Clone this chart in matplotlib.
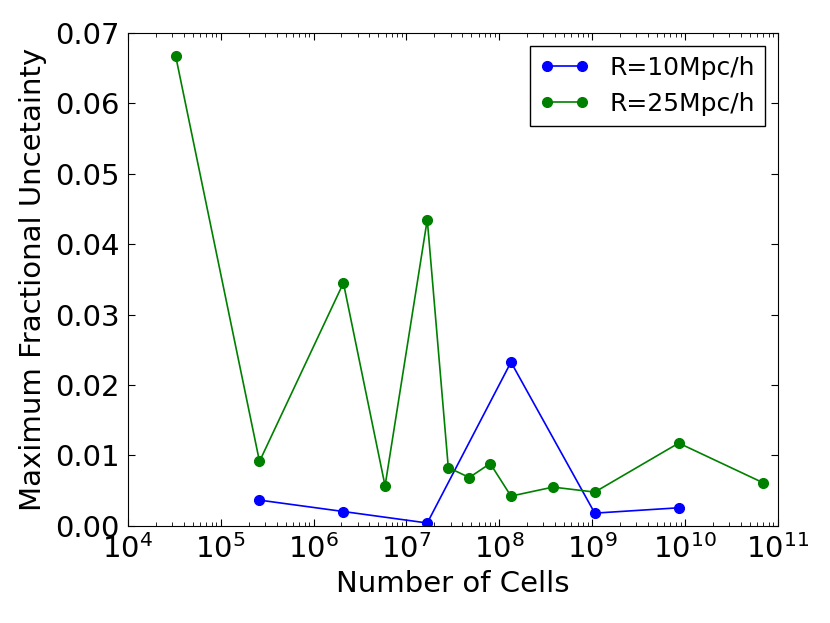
import matplotlib
matplotlib.use('Agg')
import matplotlib.pyplot as plt
from matplotlib.ticker import LogLocator, NullFormatter

# Number of cells and max fractional uncertainty
cells_10 = [2.62e5, 2.10e6, 1.68e7, 1.34e8, 1.07e9, 8.59e9]
unc_10   = [0.00365, 0.00203, 0.0004, 0.02325, 0.0018, 0.00256]

cells_25 = [3.28e4, 2.62e5, 2.10e6, 5.9e6, 1.68e7, 2.83e7, 4.76e7, 8.0e7,
            1.34e8, 3.8e8, 1.07e9, 8.59e9, 6.87e10]
unc_25   = [0.0667, 0.00914, 0.0345, 0.00568, 0.0435, 0.00828, 0.00686,
            0.00885, 0.00422, 0.0055, 0.00479, 0.01175, 0.00615]

labels = ['R=10Mpc/h', 'R=25Mpc/h']

plt.rcParams['mathtext.fontset'] = 'dejavusans'
plt.rcParams['xtick.direction'] = 'in'
plt.rcParams['ytick.direction'] = 'in'
plt.rcParams['xtick.top'] = True
plt.rcParams['ytick.right'] = True
plt.rcParams['xtick.major.size'] = 5
plt.rcParams['ytick.major.size'] = 5
plt.rcParams['xtick.minor.size'] = 3
plt.rcParams['ytick.minor.size'] = 3
plt.rcParams['xtick.major.pad'] = 6
plt.rcParams['ytick.major.pad'] = 6

fig = plt.figure(figsize=(8.3, 6.23), dpi=100)
ax = fig.add_axes([0.154, 0.156, 0.783, 0.791])

ax.plot(cells_10, unc_10, 'o-', color='b', markeredgecolor='b',
        linewidth=1.2, markersize=7, label=labels[0])
ax.plot(cells_25, unc_25, 'o-', color='g', markeredgecolor='g',
        linewidth=1.2, markersize=7, label=labels[1])

ax.set_xscale('log')
ax.set_xlim(1e4, 1e11)
ax.xaxis.set_major_locator(LogLocator(base=10, numticks=20))
ax.xaxis.set_minor_locator(LogLocator(base=10, subs=range(2, 10), numticks=20))
ax.xaxis.set_minor_formatter(NullFormatter())
ax.set_ylim(0, 0.07)
ax.set_yticks([0, 0.01, 0.02, 0.03, 0.04, 0.05, 0.06, 0.07])
ax.set_yticklabels(['0.00', '0.01', '0.02', '0.03', '0.04', '0.05', '0.06', '0.07'])
ax.tick_params(labelsize=21)

ax.set_xlabel('Number of Cells', fontsize=21)
ax.set_ylabel('Maximum Fractional Uncetainty', fontsize=21, labelpad=6)

leg = ax.legend(loc='upper right', numpoints=2, fontsize=18, fancybox=False,
                framealpha=1, edgecolor='black', borderaxespad=0.5)
leg.get_frame().set_linewidth(1.0)

fig.savefig('out.png', dpi=100)
